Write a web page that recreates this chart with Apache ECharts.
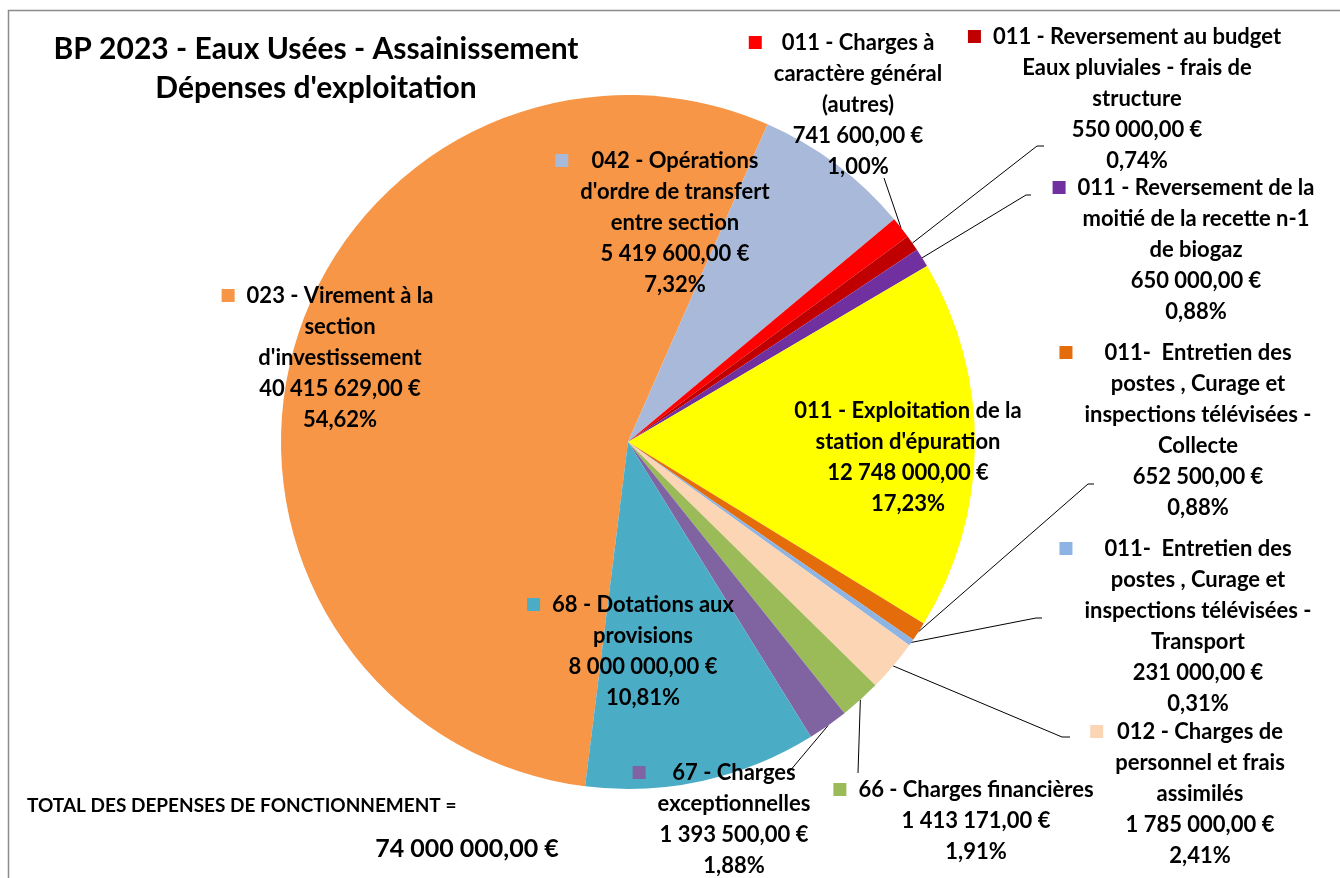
<!DOCTYPE html>
<html>
<head>
<meta charset="utf-8">
<script src="https://cdn.jsdelivr.net/npm/echarts@6/dist/echarts.min.js"></script>
<style>
  html, body { margin: 0; padding: 0; background: #fff; }
  #chart { width: 1340px; height: 878px; }
</style>
</head>
<body>
<div id="chart"></div>
<script>
// chart data
const categories = [
  "023 - Virement à la\nsection\nd'investissement",
  "042 - Opérations\nd'ordre de transfert\nentre section",
  "011 - Charges à\ncaractère général\n(autres)",
  "011 - Reversement au budget\nEaux pluviales - frais de\nstructure",
  "011 - Reversement de la\nmoitié de la recette n-1\nde biogaz",
  "011 - Exploitation de la\nstation d'épuration",
  "011-  Entretien des\npostes , Curage et\ninspections télévisées -\nCollecte",
  "011-  Entretien des\npostes , Curage et\ninspections télévisées -\nTransport",
  "012 - Charges de\npersonnel et frais\nassimilés",
  "66 - Charges financières",
  "67 - Charges\nexceptionnelles",
  "68 - Dotations aux\nprovisions"
]
const values = [40415629, 5419600, 741600, 550000, 650000, 12748000, 652500, 231000, 1785000, 1413171, 1393500, 8000000]
const colors = ['#F79646', '#A9B9D9', '#FF0000', '#C00000', '#7030A0', '#FFFF00',
  '#E46C0A', '#8DB4E2', '#FCD5B5', '#9BBB59', '#8064A2', '#4BACC6']

// label placement (center x, top y) and leader line bends
const labelPos = [[340, 280], [675, 145], [858, 27], [1137, 21], [1196, 172], [908, 395],
  [1198, 337], [1198, 533], [1200, 716], [976, 774], [734, 757], [643, 589]]
const insideLabels = [0, 1, 5, 11]
const leaderBends = {
  2: [[884, 178], [884, 178]],
  3: [[1037, 146], [1044, 146]],
  4: [[1026, 195], [1031, 195]],
  6: [[1088, 484], [1094, 484]],
  7: [[1036, 618], [1042, 618]],
  8: [[1062, 737], [1070, 737]],
  9: [[858, 773], [858, 773]],
  10: [[789, 772], [789, 772]]
}

const total = values.reduce((a, b) => a + b, 0)
const FONT = 'Lato, "Open Sans", sans-serif'

function fmtEuro(v) {
  const parts = v.toFixed(2).split('.')
  return parts[0].replace(/\B(?=(\d{3})+(?!\d))/g, ' ') + ',' + parts[1] + ' €'
}
function fmtPct(v) {
  return (v / total * 100).toFixed(2).replace('.', ',') + '%'
}

const txt = { fontFamily: FONT, fontWeight: 'bold', fontSize: 22, lineHeight: 31, color: '#000' }
const rich = {
  t: Object.assign({}, txt),
  p: Object.assign({ padding: [0, 25] }, txt),
  g: { width: 12, height: 13, align: 'left', lineHeight: 31 },
  e: { width: 25, height: 13, align: 'right', lineHeight: 31 }
}
colors.forEach((c, i) => {
  rich['sq' + i] = { width: 13, height: 13, backgroundColor: c, align: 'left', lineHeight: 31 }
})

const chart = echarts.init(document.getElementById('chart'))

chart.setOption({
  backgroundColor: '#fff',
  animation: false,
  graphic: [{
    type: 'rect',
    shape: { x: 8.5, y: 10.5, width: 1400, height: 1000 },
    style: { fill: 'none', stroke: '#8c8c8c', lineWidth: 1.5 },
    silent: true
  }],
  title: [{
    text: "BP 2023 - Eaux Usées - Assainissement\nDépenses d'exploitation",
    left: 311,
    top: 25,
    textAlign: 'center',
    textStyle: { fontFamily: FONT, fontWeight: 'bold', fontSize: 30, lineHeight: 39, color: '#000' }
  }, {
    text: 'TOTAL DES DEPENSES DE FONCTIONNEMENT =',
    left: 22,
    top: 791,
    textStyle: { fontFamily: FONT, fontWeight: 'bold', fontSize: 19, color: '#000' }
  }, {
    text: fmtEuro(total),
    left: 462,
    top: 831,
    textAlign: 'center',
    textStyle: { fontFamily: FONT, fontWeight: 'bold', fontSize: 25, color: '#000' }
  }],
  series: [{
    type: 'pie',
    center: [628, 442],
    radius: 347,
    startAngle: -97.1,
    clockwise: true,
    avoidLabelOverlap: false,
    silent: true,
    emphasis: { disabled: true },
    itemStyle: { borderWidth: 0 },
    label: {
      show: true,
      position: 'outside',
      fontFamily: FONT,
      fontWeight: 'bold',
      fontSize: 22,
      lineHeight: 31,
      color: '#000',
      formatter: params => {
        const lines = params.name.split('\n')
        const out = ['{sq' + params.dataIndex + '|}{g|}{t|' + lines[0] + '}{e|}']
        lines.slice(1).forEach(l => out.push('{p|' + l + '}'))
        out.push('{p|' + fmtEuro(params.value) + '}')
        out.push('{p|' + fmtPct(params.value) + '}')
        return out.join('\n')
      },
      rich: rich
    },
    labelLine: {
      show: true,
      lineStyle: { color: '#000', width: 1 }
    },
    labelLayout: params => {
      const i = params.dataIndex
      const res = { x: labelPos[i][0], y: labelPos[i][1], align: 'center', verticalAlign: 'top' }
      if (leaderBends[i] && params.labelLinePoints) {
        res.labelLinePoints = [params.labelLinePoints[0], leaderBends[i][0], leaderBends[i][1]]
      }
      return res
    },
    data: categories.map((name, i) => {
      const item = { name: name, value: values[i], itemStyle: { color: colors[i] } }
      if (insideLabels.indexOf(i) >= 0) {
        item.label = { position: 'inside' }
        item.labelLine = { show: false }
      }
      return item
    })
  }]
})
</script>
</body>
</html>
